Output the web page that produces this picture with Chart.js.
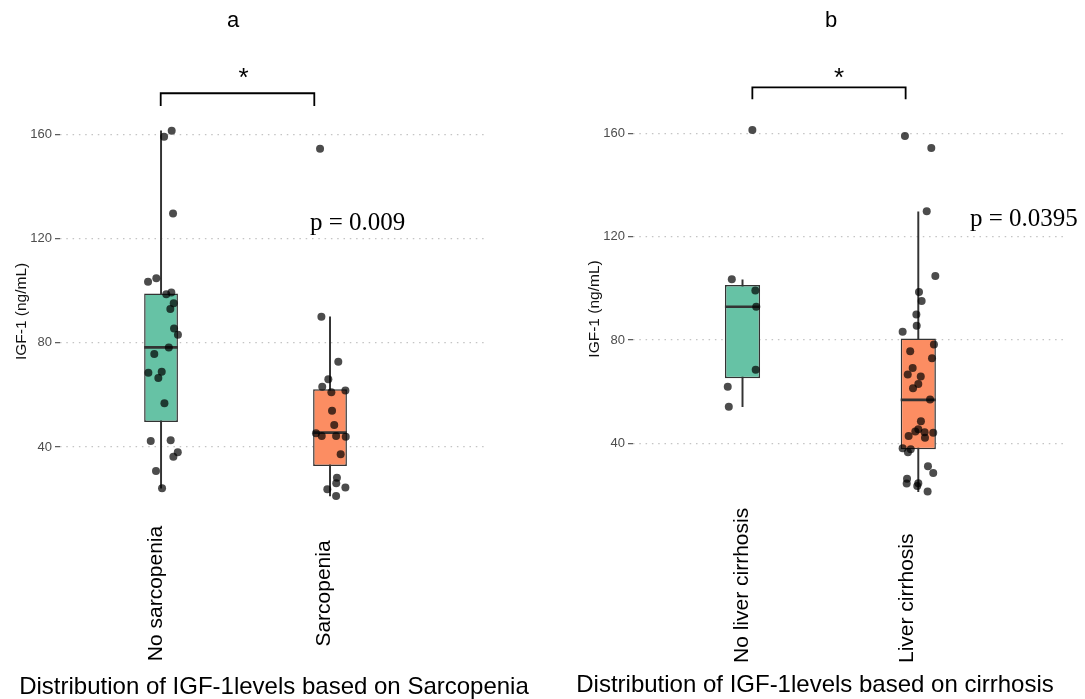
<!DOCTYPE html>
<html>
<head>
<meta charset="utf-8">
<title>IGF-1 levels</title>
<script src="https://cdn.jsdelivr.net/npm/chart.js@4.4.1/dist/chart.umd.min.js"></script>
<style>
  html, body { margin: 0; padding: 0; background: #fff; }
  #wrap { position: relative; width: 1085px; height: 699px; overflow: hidden; }
  canvas { position: absolute; top: 0; }
  #chartA { left: 0; }
  #chartB { left: 545px; }
</style>
</head>
<body>
<div id="wrap">
  <canvas id="chartA" width="545" height="699"></canvas>
  <canvas id="chartB" width="540" height="699"></canvas>
</div>
<script>
// Panel a: sarcopenia
const sarcCategories = ['No sarcopenia', 'Sarcopenia'];
const noSarcValues = [161.3, 159.0, 129.6, 103.4, 104.7, 99.3, 98.6, 95.1, 92.9, 85.5, 83.1, 78.2, 75.7, 68.5, 68.9, 66.5, 56.8, 42.3, 42.6, 38.0, 36.3, 30.8, 24.2];
const noSarcJitter = [0.063, 0.018, 0.071, -0.077, -0.028, 0.061, 0.031, 0.075, 0.055, 0.077, 0.100, 0.046, -0.040, -0.075, 0.004, -0.016, 0.020, -0.061, 0.057, 0.099, 0.073, -0.030, 0.006];
const sarcValues = [154.4, 90.0, 72.7, 66.0, 63.1, 61.0, 61.7, 53.9, 48.4, 45.3, 44.2, 44.2, 43.9, 37.2, 28.2, 26.1, 23.8, 24.5, 21.2];
const sarcJitter = [-0.059, -0.051, 0.049, -0.010, -0.046, 0.008, 0.091, 0.012, 0.025, -0.083, -0.049, 0.036, 0.093, 0.063, 0.041, 0.037, -0.016, 0.091, 0.036];
// box stats: [lower whisker, q1, median, q3, upper whisker]
const noSarcBox = [24.2, 49.6, 78.2, 98.9, 161.3];
const sarcBox = [21.2, 32.7, 45.5, 62.2, 89.9];

// Panel b: liver cirrhosis
const cirrCategories = ['No liver cirrhosis', 'Liver cirrhosis'];
const noCirrValues = [161.3, 103.5, 99.2, 92.9, 68.5, 61.9, 54.2];
const noCirrJitter = [0.056, -0.061, 0.073, 0.078, 0.075, -0.084, -0.078];
const cirrValues = [159.0, 154.3, 129.8, 104.8, 98.6, 95.1, 89.9, 85.5, 83.2, 78.3, 75.6, 72.9, 69.2, 66.6, 65.9, 63.0, 61.3, 57.0, 48.5, 45.4, 44.6, 42.8, 44.3, 42.2, 44.1, 38.1, 37.7, 36.5, 31.1, 28.5, 26.3, 24.4, 24.5, 23.5, 21.3];
const cirrJitter = [-0.076, 0.074, 0.048, 0.097, 0.004, 0.019, -0.011, -0.009, -0.089, 0.089, -0.046, 0.078, -0.032, -0.060, 0.014, 0.000, -0.030, 0.067, 0.015, 0.000, -0.017, -0.055, 0.036, 0.038, 0.085, -0.089, -0.043, -0.059, 0.055, 0.085, -0.064, -0.066, 0.000, -0.006, 0.053];
const noCirrBox = [54.2, 65.2, 92.9, 101.3, 103.3];
const cirrBox = [21.3, 37.7, 56.8, 80.6, 129.6];

const yTicks = [40, 80, 120, 160];

const SANS = '"Liberation Sans", Arial, sans-serif';
const SERIF = '"Liberation Serif", "Times New Roman", serif';
const boxColors = ['#66c2a5', '#fc8d62'];
const boxHalfWidth = 0.1;
const lineColor = '#333333';

// Build the point, median, box and whisker datasets for one panel
function buildDatasets(groups) {
    const points = [];
    groups.forEach((g, i) => {
        g.values.forEach((v, j) => points.push({ x: i + 1 + g.jitter[j], y: v }));
    });

    const datasets = [{
        type: 'scatter',
        data: points,
        backgroundColor: 'rgba(0,0,0,0.7)',
        borderWidth: 0,
        pointRadius: 4,
        order: 0
    }];

    groups.forEach((g, i) => {
        datasets.push({
            type: 'line',
            data: [{ x: i + 1 - boxHalfWidth, y: g.box[2] }, { x: i + 1 + boxHalfWidth, y: g.box[2] }],
            borderColor: lineColor,
            borderWidth: 2.6,
            pointRadius: 0,
            order: 1
        });
    });

    datasets.push({
        type: 'bar',
        data: groups.map((g, i) => ({ x: i + 1, y: [g.box[1], g.box[3]] })),
        backgroundColor: boxColors,
        borderColor: lineColor,
        borderWidth: 1.5,
        borderSkipped: false,
        grouped: false,
        categoryPercentage: 1,
        barPercentage: boxHalfWidth * 2,
        order: 2
    });

    datasets.push({
        type: 'bar',
        data: groups.map((g, i) => ({ x: i + 1, y: [g.box[0], g.box[4]] })),
        backgroundColor: lineColor,
        borderWidth: 0,
        barThickness: 1.3,
        grouped: false,
        order: 3
    });
    return datasets;
}

// Texts and bracket around the plot area
const annotations = {
    id: 'annotations',
    afterDraw(chart, args, opts) {
        const ctx = chart.ctx;
        const xs = chart.scales.x, ys = chart.scales.y;
        ctx.save();
        ctx.fillStyle = '#000';
        ctx.textBaseline = 'alphabetic';

        // panel letter
        ctx.textAlign = 'center';
        ctx.font = '22px ' + SANS;
        ctx.fillText(opts.letter, opts.letterX, 27);

        // significance bracket and star
        const b = opts.bracket;
        const x1 = xs.getPixelForValue(b[0]), x2 = xs.getPixelForValue(b[1]);
        const yTop = ys.getPixelForValue(b[2]), yBot = ys.getPixelForValue(b[3]);
        ctx.strokeStyle = '#000';
        ctx.lineWidth = 1.8;
        ctx.beginPath();
        ctx.moveTo(x1, yBot);
        ctx.lineTo(x1, yTop);
        ctx.lineTo(x2, yTop);
        ctx.lineTo(x2, yBot);
        ctx.stroke();
        ctx.font = '26px ' + SANS;
        ctx.fillText('*', opts.starX, 86);

        // p value
        ctx.textAlign = 'left';
        ctx.font = '25px ' + SERIF;
        ctx.fillText(opts.pText, opts.pX, opts.pY);

        // rotated category labels
        ctx.font = '21px ' + SANS;
        opts.labels.forEach((label, i) => {
            const px = xs.getPixelForValue(i + 1) + opts.labelDx[i];
            ctx.save();
            ctx.translate(px, opts.labelY);
            ctx.rotate(-Math.PI / 2);
            ctx.textAlign = opts.labelAlign;
            ctx.fillText(label, 0, 0);
            ctx.restore();
        });

        // caption below
        ctx.textAlign = 'center';
        ctx.font = '24px ' + SANS;
        ctx.fillText(opts.caption, opts.captionX, opts.captionY);
        ctx.restore();
    }
};

function makePanel(canvasId, groups, categories, layout, notes) {
    const ctx = document.getElementById(canvasId).getContext('2d');
    return new Chart(ctx, {
        type: 'scatter',
        data: { datasets: buildDatasets(groups) },
        options: {
            responsive: false,
            animation: false,
            events: [],
            layout: { padding: layout.padding },
            plugins: {
                legend: { display: false },
                tooltip: { enabled: false },
                annotations: notes
            },
            scales: {
                x: {
                    type: 'linear',
                    display: false,
                    offset: false,
                    min: layout.xMin,
                    max: layout.xMax,
                    afterBuildTicks: scale => {
                        scale.ticks = categories.map((c, i) => ({ value: i + 1 }));
                    }
                },
                y: {
                    type: 'linear',
                    min: 10,
                    max: 174,
                    afterBuildTicks: scale => {
                        scale.ticks = yTicks.map(v => ({ value: v }));
                    },
                    afterFit: scale => { scale.width = 60; },
                    ticks: {
                        color: '#4d4d4d',
                        font: { family: SANS, size: 13 },
                        padding: 3
                    },
                    grid: {
                        color: '#c4c4c4',
                        lineWidth: 1.3,
                        tickColor: '#555',
                        tickLength: 5,
                        tickWidth: 1.2,
                        borderDash: [1.5, 4.8]
                    },
                    border: { display: false, dash: [1.5, 4.8] },
                    title: {
                        display: true,
                        text: 'IGF-1 (ng/mL)',
                        color: '#111',
                        font: { family: SANS, size: 15.5 },
                        padding: { top: 12, bottom: 0 }
                    }
                }
            }
        },
        plugins: [annotations]
    });
}

window.onload = () => {
    makePanel('chartA',
        [
            { values: noSarcValues, jitter: noSarcJitter, box: noSarcBox },
            { values: sarcValues, jitter: sarcJitter, box: sarcBox }
        ],
        sarcCategories,
        { padding: { left: 0, top: 97.7, right: 57, bottom: 173.8 }, xMin: 0.402, xMax: 2.935 },
        {
            letter: 'a', letterX: 233,
            bracket: [0.998, 1.907, 175.7, 170.8], starX: 243.5,
            pText: 'p = 0.009', pX: 310, pY: 230,
            labels: sarcCategories, labelDx: [0.5, 0], labelY: 593.5, labelAlign: 'center',
            caption: 'Distribution of IGF-1levels based on Sarcopenia', captionX: 274, captionY: 694
        });

    makePanel('chartB',
        [
            { values: noCirrValues, jitter: noCirrJitter, box: noCirrBox },
            { values: cirrValues, jitter: cirrJitter, box: cirrBox }
        ],
        cirrCategories,
        { padding: { left: 28, top: 97.2, right: 18, bottom: 178.2 }, xMin: 0.377, xMax: 2.846 },
        {
            letter: 'b', letterX: 286,
            bracket: [1.056, 1.928, 177.8, 173.2], starX: 294,
            pText: 'p = 0.0395', pX: 425, pY: 226,
            labels: cirrCategories, labelDx: [5.5, -5.3], labelY: 663, labelAlign: 'left',
            caption: 'Distribution of IGF-1levels based on cirrhosis', captionX: 270, captionY: 692
        });
};
</script>
</body>
</html>
